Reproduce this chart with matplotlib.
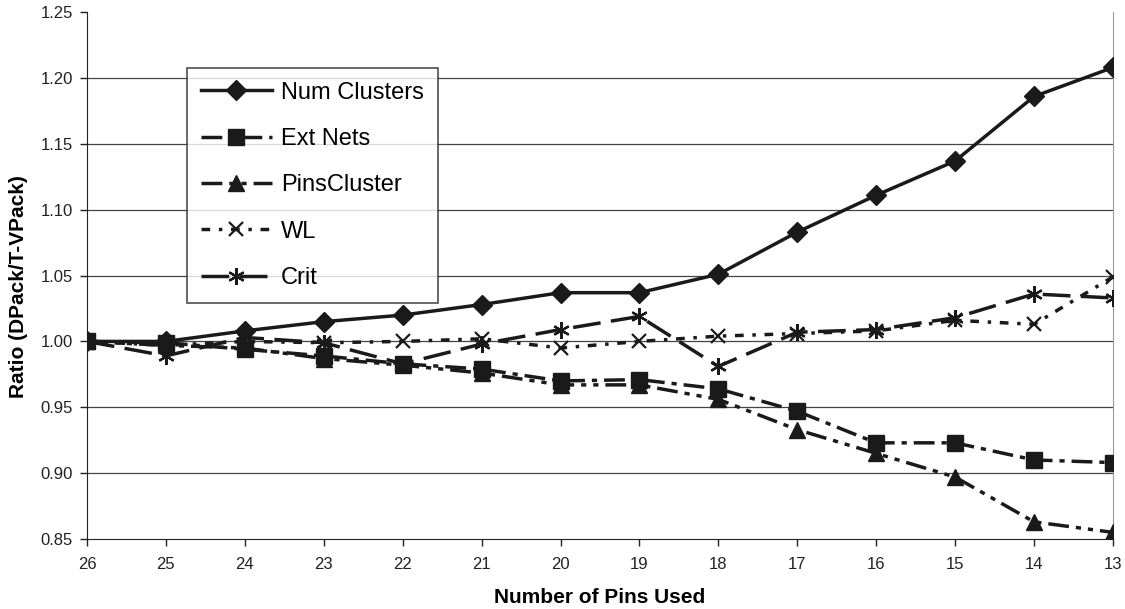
import matplotlib
matplotlib.use("Agg")
import matplotlib.pyplot as plt
from matplotlib.ticker import FormatStrFormatter

plt.rcParams['font.family'] = ['Liberation Sans', 'DejaVu Sans']

pins_used = [26, 25, 24, 23, 22, 21, 20, 19, 18, 17, 16, 15, 14, 13]
num_clusters = [1.000, 1.000, 1.008, 1.015, 1.020, 1.028, 1.037, 1.037, 1.051, 1.083, 1.111, 1.137, 1.186, 1.208]
ext_nets = [1.000, 0.999, 0.994, 0.989, 0.983, 0.979, 0.970, 0.971, 0.964, 0.947, 0.923, 0.923, 0.910, 0.908]
pins_cluster = [1.000, 0.997, 0.995, 0.987, 0.982, 0.976, 0.967, 0.967, 0.956, 0.933, 0.915, 0.897, 0.863, 0.855]
wl = [1.000, 0.997, 1.000, 0.999, 1.000, 1.002, 0.995, 1.000, 1.004, 1.006, 1.008, 1.016, 1.013, 1.049]
crit = [1.000, 0.989, 1.003, 0.999, 0.983, 0.998, 1.009, 1.019, 0.981, 1.007, 1.009, 1.018, 1.036, 1.033]
y_ticks = [0.85, 0.90, 0.95, 1.00, 1.05, 1.10, 1.15, 1.20, 1.25]

fig = plt.figure(figsize=(11.25, 6.09), dpi=100)
ax = fig.add_axes([0.0773, 0.115, 0.912, 0.865])

c = '#1a1a1a'
lw = 2.5
ax.plot(pins_used, num_clusters, color=c, lw=lw, marker='D', ms=10, label='Num Clusters', zorder=5)
ax.plot(pins_used, ext_nets, color=c, lw=lw, marker='s', ms=11, dashes=(6, 2, 1.5, 2),
        label='Ext Nets', zorder=4)
ax.plot(pins_used, pins_cluster, color=c, lw=lw, marker='^', ms=11, dashes=(6, 2, 1.5, 2, 1.5, 2),
        label='PinsCluster', zorder=3)
ax.plot(pins_used, wl, color=c, lw=lw, marker='x', ms=10, mew=1.6, dashes=(2.5, 2.5, 1, 2.5),
        label='WL', zorder=6)
ax.plot(pins_used, crit, color=c, lw=lw, marker=(6, 2, 0), ms=12, mew=1.6, dashes=(8, 3),
        label='Crit', zorder=6)

ax.set_xlim(26, 13)
ax.set_ylim(0.85, 1.25)
ax.set_xticks(pins_used)
ax.set_yticks(y_ticks)
ax.yaxis.set_major_formatter(FormatStrFormatter('%.2f'))
ax.tick_params(axis='both', labelsize=12, direction='out', length=5, width=1, colors='#222')
ax.tick_params(axis='y', pad=5)
ax.tick_params(axis='x', pad=8)

for yv in y_ticks[1:-1]:
    ax.axhline(yv, color='#444', lw=0.9, zorder=0)

ax.spines['top'].set_visible(False)
ax.spines['right'].set_color('#999')
ax.spines['left'].set_color('#222')
ax.spines['bottom'].set_color('#222')

ax.set_xlabel('Number of Pins Used', fontsize=15, fontweight='bold')
ax.set_ylabel('Ratio (DPack/T-VPack)', fontsize=15, fontweight='bold')
ax.xaxis.set_label_coords(0.5, -0.093)
ax.yaxis.set_label_coords(-0.0575, 0.48)

leg = ax.legend(loc='upper left', bbox_to_anchor=(0.0975, 0.894), fontsize=17, frameon=True,
                fancybox=False, edgecolor='#222', handlelength=3.0, labelspacing=1.03,
                borderpad=0.58, handletextpad=0.4, borderaxespad=0)
leg.get_frame().set_linewidth(1.2)

fig.savefig('out.png', dpi=100, facecolor='white')
